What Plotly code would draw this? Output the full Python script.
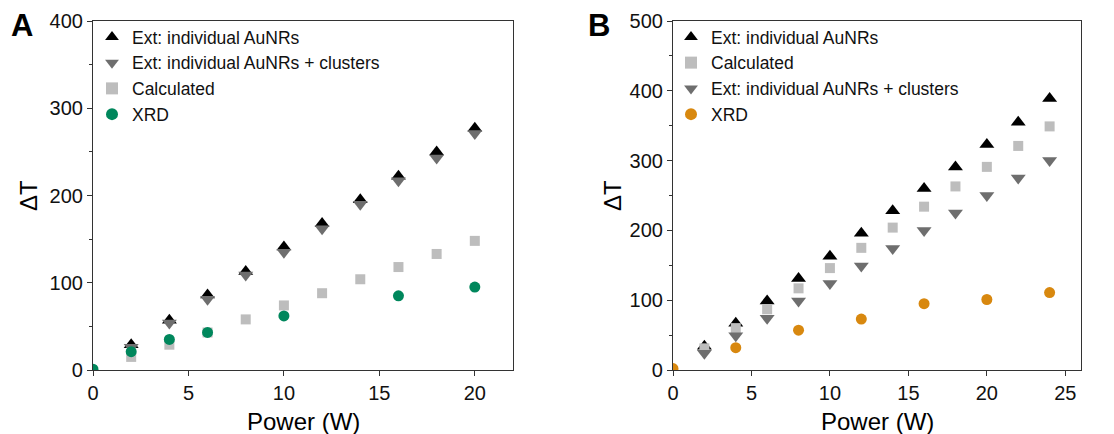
import plotly.graph_objects as go

# ---------------- Data: panel A ----------------
a_tri_x = [2, 4, 6, 8, 10, 12, 14, 16, 18, 20]
a_tri_y = [29, 57, 86, 113, 141, 168, 195, 222, 250, 277]
a_clu_x = [2, 4, 6, 8, 10, 12, 14, 16, 18, 20]
a_clu_y = [26, 54, 81, 109, 135, 162, 190, 217, 243, 271]
a_calc_x = [2, 4, 6, 8, 10, 12, 14, 16, 18, 20]
a_calc_y = [15, 29, 43, 58, 74, 88, 104, 118, 133, 148]
a_xrd_x = [0, 2, 4, 6, 10, 16, 20]
a_xrd_y = [1, 21, 35, 43, 62, 85, 95]

# ---------------- Data: panel B ----------------
b_tri_x = [2, 4, 6, 8, 10, 12, 14, 16, 18, 20, 22, 24]
b_tri_y = [34, 67, 99, 131, 163, 196, 228, 260, 291, 323, 355, 389]
b_calc_x = [2, 4, 6, 8, 10, 12, 14, 16, 18, 20, 22, 24]
b_calc_y = [31, 60, 87, 117, 146, 175, 204, 234, 263, 291, 321, 349]
b_clu_x = [2, 4, 6, 8, 10, 12, 14, 16, 18, 20, 22, 24]
b_clu_y = [24, 49, 74, 99, 124, 149, 174, 200, 225, 250, 275, 300]
b_xrd_x = [0, 4, 8, 12, 16, 20, 24]
b_xrd_y = [2, 32, 57, 73, 95, 101, 111]

BLACK = "#000000"
DGRAY = "#6e6e6e"
LGRAY = "#bdbdbd"
GREEN = "#00875c"
ORANGE = "#d8880f"
FONT = "Arial, Liberation Sans, sans-serif"

fig = go.Figure()

def add(x, y, name, sym, size, color, xa, ya, leg):
    fig.add_trace(go.Scatter(
        x=x, y=y, mode="markers", name=name,
        marker=dict(symbol=sym, size=size, color=color, line=dict(width=0)),
        xaxis=xa, yaxis=ya, legend=leg))

add(a_tri_x, a_tri_y, "Ext: individual AuNRs", "triangle-up", 13, BLACK, "x", "y", "legend")
add(a_clu_x, a_clu_y, "Ext: individual AuNRs + clusters", "triangle-down", 13, DGRAY, "x", "y", "legend")
add(a_calc_x, a_calc_y, "Calculated", "square", 10, LGRAY, "x", "y", "legend")
add(a_xrd_x, a_xrd_y, "XRD", "circle", 11, GREEN, "x", "y", "legend")

add(b_tri_x, b_tri_y, "Ext: individual AuNRs", "triangle-up", 13, BLACK, "x2", "y2", "legend2")
add(b_calc_x, b_calc_y, "Calculated", "square", 10, LGRAY, "x2", "y2", "legend2")
add(b_clu_x, b_clu_y, "Ext: individual AuNRs + clusters", "triangle-down", 13, DGRAY, "x2", "y2", "legend2")
add(b_xrd_x, b_xrd_y, "XRD", "circle", 11, ORANGE, "x2", "y2", "legend2")

W, H = 1114, 434
ax_common = dict(
    showline=True, linecolor="#333333", linewidth=1.2, mirror=True,
    ticks="outside", ticklen=5, tickwidth=1, tickcolor="#333333",
    showgrid=False, zeroline=False,
    tickfont=dict(family=FONT, size=20, color="#111111"),
    minor=dict(ticks="outside", ticklen=3, tickwidth=1, tickcolor="#333333", nticks=2),
)

yd = [1 - 370 / H, 1 - 21 / H]
leg_common = dict(xanchor="left", yanchor="top",
                  bgcolor="rgba(0,0,0,0)", borderwidth=0,
                  font=dict(family=FONT, size=17.5, color="#111111"),
                  itemsizing="constant", tracegroupgap=0)
fig.update_layout(
    width=W, height=H,
    margin=dict(l=0, r=0, t=0, b=0, autoexpand=False),
    paper_bgcolor="white", plot_bgcolor="white",
    font=dict(family=FONT, color="#111111"),
    xaxis=dict(domain=[93 / W, 513 / W], range=[0, 22], dtick=5, anchor="y", **ax_common),
    yaxis=dict(domain=yd, range=[0, 400], dtick=100, anchor="x", **ax_common),
    xaxis2=dict(domain=[673 / W, 1081 / W], range=[0, 26], dtick=5, anchor="y2", **ax_common),
    yaxis2=dict(domain=yd, range=[0, 500], dtick=100, anchor="x2", **ax_common),
    legend=dict(x=92 / W, y=1 - 19 / H, **leg_common),
    legend2=dict(x=671 / W, y=1 - 19 / H, **leg_common),
    showlegend=True,
)

ann = []
def t(text, x, y, size, bold=False, angle=0):
    ann.append(dict(text=f"<b>{text}</b>" if bold else text, x=x / W, y=1 - y / H,
                    xref="paper", yref="paper", showarrow=False,
                    xanchor="center", yanchor="middle", textangle=angle,
                    font=dict(family=FONT, size=size, color="#000000")))

t("A", 22, 25, 31, bold=True)
t("B", 599, 25, 31, bold=True)
t("Power (W)", 303, 421, 24)
t("Power (W)", 877, 421, 24)
t("ΔT", 28, 196, 24, angle=-90)
t("ΔT", 612, 196, 24, angle=-90)
fig.update_layout(annotations=ann)

fig.write_html("out.html")
